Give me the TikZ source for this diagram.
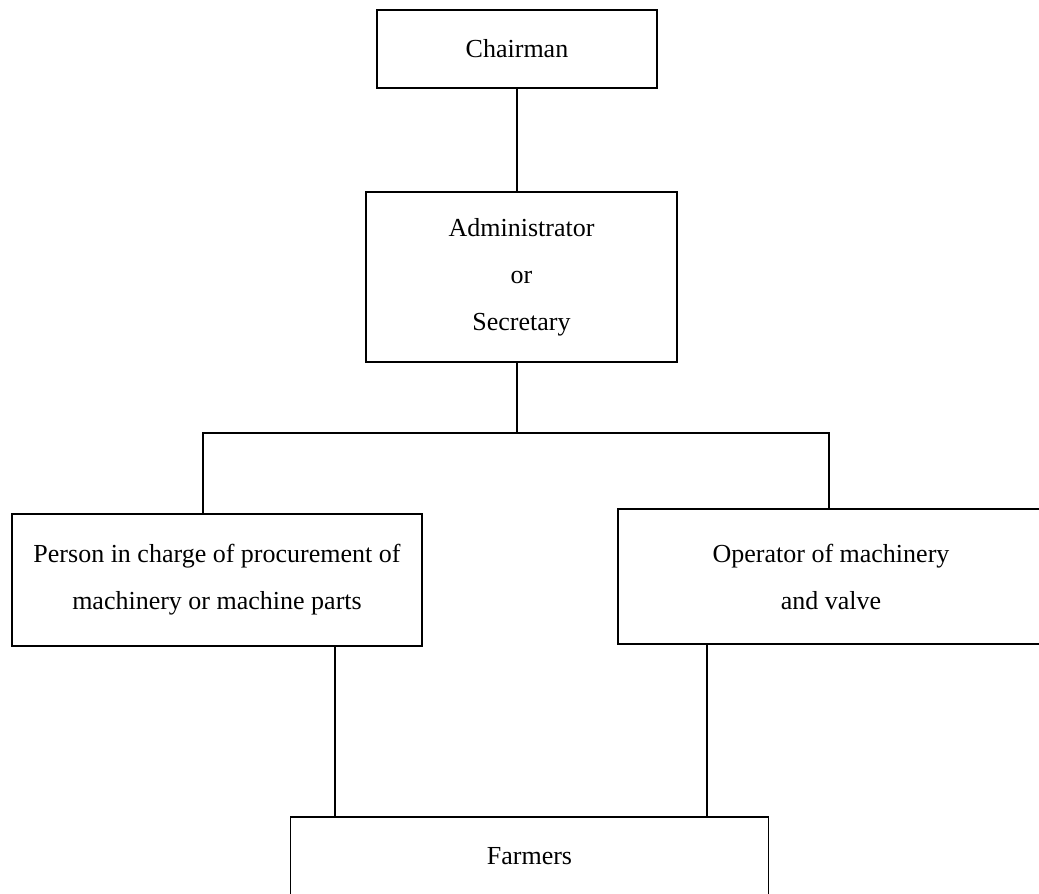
\documentclass[tikz,border=0pt]{standalone}
\usepackage{fontspec}
\setmainfont{Liberation Serif}
\usepackage{tikz}
\tikzstyle{post} = [rectangle, draw=black, line width=0.8pt, text centered, align=center, inner sep=0pt, font=\fontsize{13}{23.5}\selectfont]
\tikzstyle{link} = [line width=1.3pt]

\begin{document}
\begin{tikzpicture}[x=0.5pt,y=-0.5pt]
			\useasboundingbox (0,0) rectangle (1039,894);
			\node (chair) [post, minimum width=140pt, minimum height=39pt] at (517,49) {Chairman};
			\node (admin) [post, minimum width=155.5pt, minimum height=85pt] at (521.5,277) {Administrator\\or\\Secretary};
			\node (buyer) [post, minimum width=205pt, minimum height=66pt] at (217,580) {Person in charge of procurement of\\machinery or machine parts};
			\node (oper) [post, minimum width=213pt, minimum height=67.5pt] at (831,576.5) {Operator of machinery\\and valve};
			\node (farm) [post, minimum width=239pt, minimum height=39pt] at (529.5,856) {Farmers};
			\coordinate (bar) at (517,433);
			\coordinate (barL) at (203,433);
			\coordinate (barR) at (829,433);
			\draw [link] (chair.south) -- (chair.south |- admin.north);
			\draw [link] (admin.south -| bar) -- (bar);
			\draw [link] (barL |- buyer.north) -- (barL) -- (barR) -- (barR |- oper.north);
			\draw [link] ([xshift=59pt]buyer.south) -- ([xshift=59pt]buyer.south |- farm.north);
			\draw [link] ([xshift=-62pt]oper.south) -- ([xshift=-62pt]oper.south |- farm.north);
		\end{tikzpicture}
\end{document}
